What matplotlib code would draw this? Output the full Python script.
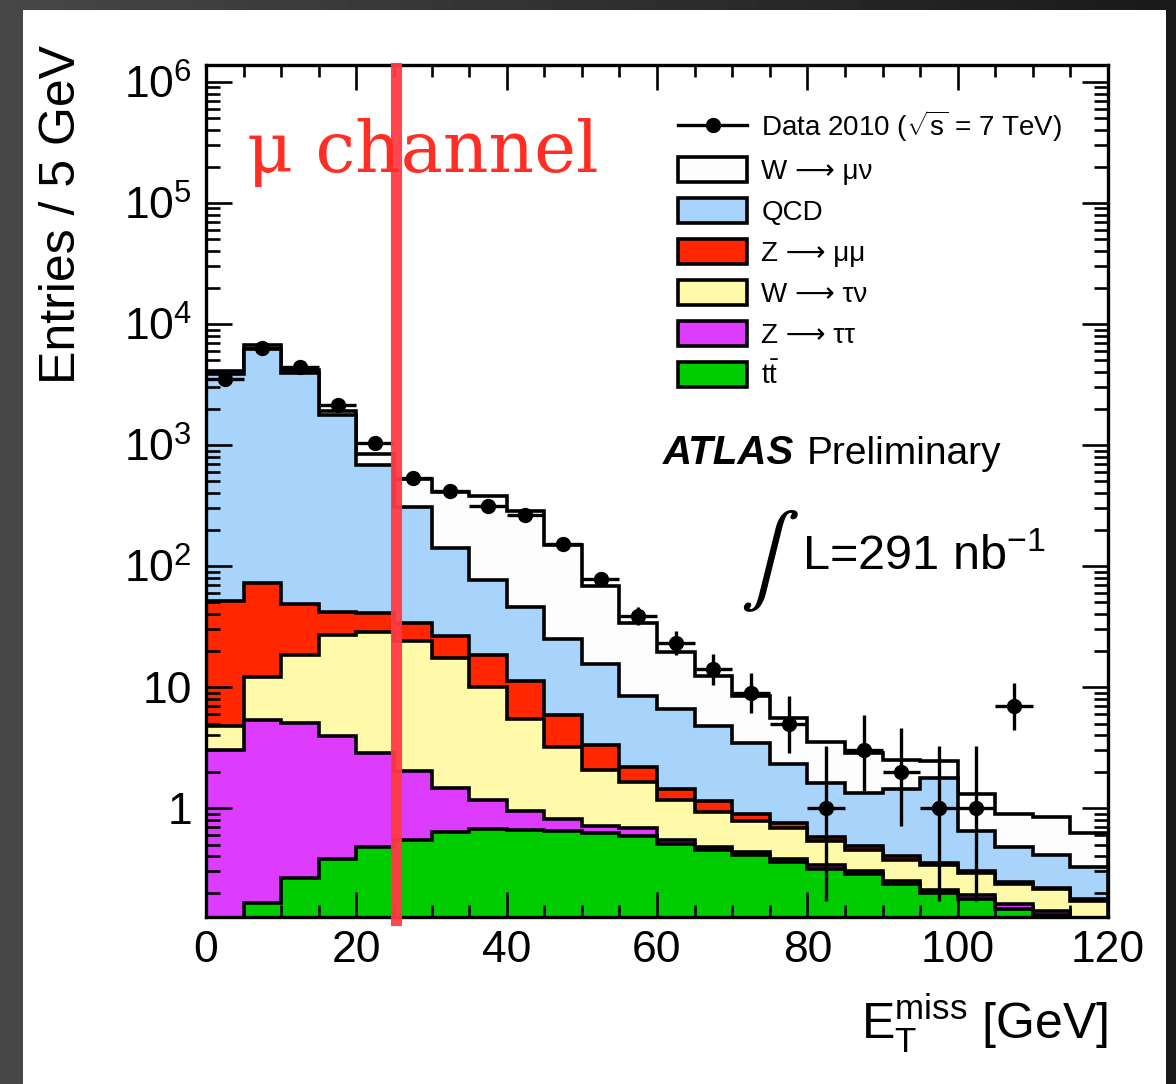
import numpy as np
import matplotlib.pyplot as plt
import matplotlib.patches as mpatches
from matplotlib.lines import Line2D
from matplotlib.ticker import FixedLocator, FixedFormatter, LogLocator, NullFormatter, MultipleLocator

plt.rcParams['font.family'] = ['Liberation Sans', 'DejaVu Sans']
plt.rcParams['mathtext.fontset'] = 'custom'
plt.rcParams['mathtext.rm'] = 'Liberation Sans'
plt.rcParams['mathtext.it'] = 'Liberation Sans:italic'
plt.rcParams['mathtext.bf'] = 'Liberation Sans:bold'

# missing E_T, 5 GeV bins
bin_edges = np.arange(0, 125, 5)
bin_centers = bin_edges[:-1] + 2.5

data = np.array([3490, 6320, 4440, 2140, 1030, 537, 419, 313, 264, 152, 78, 39,
                 23, 14, 9, 5, 1, 3, 2, 1, 1, 7, 0, 0])

# expected events per sample, stacked bottom to top
ttbar = np.array([0, 0.163, 0.267, 0.377, 0.479, 0.544, 0.637, 0.667, 0.658, 0.65, 0.618, 0.59,
                  0.51, 0.45, 0.41, 0.36, 0.317, 0.285, 0.238, 0.2, 0.176, 0.146, 0.13, 0.11])
ztautau = np.array([3.02, 5.18, 4.74, 3.58, 2.39, 1.48, 0.83, 0.49, 0.29, 0.16, 0.10, 0.09,
                    0.04, 0.03, 0.02, 0.02, 0.023, 0.015, 0.012, 0.01, 0.014, 0.014, 0.01, 0.01])
wtaunu = np.array([1.74, 6.66, 13.4, 22.9, 25.8, 22.1, 15.8, 8.9, 4.55, 2.4, 1.34, 0.95,
                   0.61, 0.44, 0.35, 0.30, 0.19, 0.15, 0.12, 0.13, 0.10, 0.075, 0.073, 0.05])
zmumu = np.array([46.2, 60.5, 30.6, 14.5, 11.9, 9.9, 9.2, 8.3, 5.8, 2.66, 1.29, 0.57,
                  0.29, 0.23, 0.11, 0.08, 0.05, 0.04, 0.03, 0.01, 0.01, 0.011, 0.007, 0.006])
qcd = np.array([3800, 6110, 3900, 1729, 643, 271, 113.5, 58.2, 34.2, 18.9, 12.2, 6.3,
                5.2, 3.64, 2.53, 1.54, 1.04, 0.85, 1.03, 1.41, 0.345, 0.234, 0.19, 0.151])
wmunu = np.array([210, 520, 220, 140, 154, 219, 266, 306, 240, 124, 53.3, 25.5,
                  13.0, 7.5, 5.1, 3.28, 1.91, 1.49, 1.09, 0.69, 0.675, 0.41, 0.44, 0.29])

samples = [ttbar, ztautau, wtaunu, zmumu, qcd, wmunu]
colors = ['#00cc00', '#dd3cff', '#fffaaa', '#ff2600', '#a8d4fc', '#fdfdfd']
labels = [r'$\mathrm{t\bar{t}}$', 'Z ⟶ ττ', 'W ⟶ τν', 'Z ⟶ μμ', 'QCD', 'W ⟶ μν']

W, H = 1176, 1084
fig = plt.figure(figsize=(W / 100, H / 100), dpi=100)

# dark frame with white sheet on top
bg = fig.add_axes([0, 0, 1, 1], zorder=-10)
shade = np.linspace(0.28, 0.10, 256)[None, :]
bg.imshow(shade, cmap='gray', vmin=0, vmax=1, aspect='auto', extent=[0, 1, 0, 1])
bg.add_patch(mpatches.Rectangle((23 / W, 0), 1143 / W, 1074 / H, transform=fig.transFigure,
                                facecolor='white', edgecolor='none'))
bg.set_axis_off()

ax = fig.add_axes([206 / W, 1 - 917 / H, (1108 - 206) / W, (917 - 65) / H])
ax.set_axisbelow(False)

cum = np.cumsum(np.vstack(samples), axis=0)
for i in reversed(range(len(samples))):
    ax.stairs(np.where(cum[i] > 0, cum[i], 1e-3), bin_edges, baseline=1e-3, fill=True,
              facecolor=colors[i], edgecolor='black', lw=2.6, zorder=1 + 0.1 * (len(samples) - i))

# asymmetric Poisson errors (Wilson-Hilferty approximation)
mask = data > 0
n = data[mask].astype(float)
err_lo = n - n * (1 - 1 / (9 * n) - 1 / (3 * np.sqrt(n))) ** 3
err_hi = (n + 1) * (1 - 1 / (9 * (n + 1)) + 1 / (3 * np.sqrt(n + 1))) ** 3 - n
ax.errorbar(bin_centers[mask], n, xerr=2.5, yerr=[err_lo, err_hi], fmt='o', color='black',
            ms=10, elinewidth=2.4, capsize=0, zorder=3)

ax.set_yscale('log')
ax.set_xlim(0, 120)
ax.set_ylim(0.126, 1.38e6)

ax.yaxis.set_major_locator(FixedLocator([1, 10, 1e2, 1e3, 1e4, 1e5, 1e6]))
ax.yaxis.set_major_formatter(FixedFormatter(['1', '10', r'$10^{2}$', r'$10^{3}$',
                                             r'$10^{4}$', r'$10^{5}$', r'$10^{6}$']))
ax.yaxis.set_minor_locator(LogLocator(base=10, subs=np.arange(2, 10), numticks=50))
ax.yaxis.set_minor_formatter(NullFormatter())
ax.xaxis.set_major_locator(MultipleLocator(20))
ax.xaxis.set_minor_locator(MultipleLocator(5))

ax.tick_params(axis='both', which='both', direction='in', top=True, right=True, width=1.9,
               labelsize=32)
ax.tick_params(axis='y', which='major', length=19, pad=10)
ax.tick_params(axis='y', which='minor', length=10)
ax.tick_params(axis='x', which='major', length=18, pad=9)
ax.tick_params(axis='x', which='minor', length=8.5)
for s in ax.spines.values():
    s.set_linewidth(2.4)

fig.text(62 / W, 1 - 45 / H, 'Entries / 5 GeV', rotation=90, ha='center', va='top', fontsize=36)
fig.text(1108 / W, 1 - 1040 / H, r'$\mathrm{E}_{\mathrm{T}}^{\mathrm{miss}}$ [GeV]',
         ha='right', va='baseline', fontsize=36)

handles = [Line2D([], [], color='black', lw=2.4, marker='o', ms=10)]
handles += [mpatches.Patch(facecolor=c, edgecolor='black', lw=2.6) for c in reversed(colors)]
leg_labels = [r'Data 2010 ($\sqrt{\mathrm{s}}$ = 7 TeV)'] + list(reversed(labels))
ax.legend(handles, leg_labels, loc='upper left', bbox_to_anchor=(678 / W, 1 - 108 / H),
          bbox_transform=fig.transFigure, frameon=False, fontsize=20, handlelength=2.5,
          handleheight=1.0, labelspacing=0.47, handletextpad=0.5, borderpad=0, borderaxespad=0)

fig.text(663 / W, 1 - 464 / H, 'ATLAS', fontsize=29, fontweight='bold', fontstyle='italic',
         va='baseline')
fig.text(807 / W, 1 - 464 / H, 'Preliminary', fontsize=28, va='baseline')
fig.text(769 / W, 1 - 561 / H, r'$\int$', fontsize=64, math_fontfamily='stix',
         ha='center', va='center')
fig.text(802 / W, 1 - 570 / H, r'L=291 nb$^{-1}$', fontsize=35, va='baseline')

# channel marker
ax.axvline(25.3, ymin=-0.004, ymax=0.997, color='#ff3b45', lw=8, alpha=0.95, clip_on=False,
           zorder=4)
fig.text(247 / W, 1 - 172 / H, 'μ channel', color='#ff2d24', fontsize=51,
         family='DejaVu Serif', va='baseline', zorder=5)

fig.savefig('out.png', dpi=100)
